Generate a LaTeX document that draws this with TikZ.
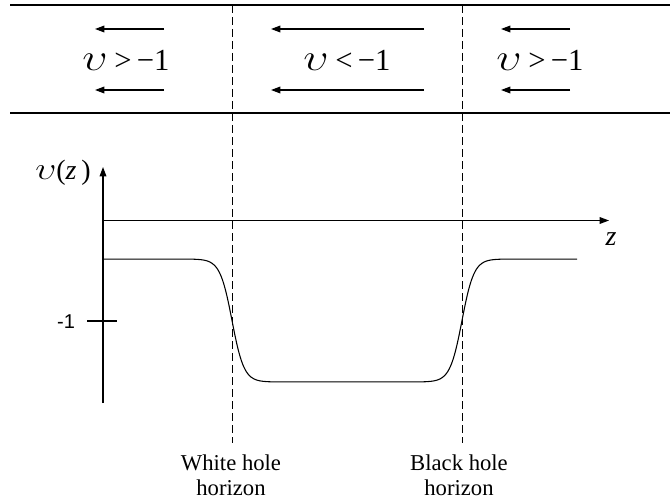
\documentclass[tikz,border=0pt]{standalone}
\usepackage{fontspec}
\usepackage{graphicx}
\setmainfont{Liberation Serif}
\newfontfamily\sansf{Liberation Sans}
\usetikzlibrary{arrows.meta}
\newcommand{\myups}{\scalebox{1.35}[1.15]{$\upsilon$}}
\begin{document}
\begin{tikzpicture}[x=0.75pt,y=-0.75pt, line width=0.9pt,
  tip/.style={-{Triangle[length=7pt,width=5pt]}},
  hz/.style={dash pattern=on 6pt off 3pt, line width=0.8pt},
  big/.style={font=\fontsize{23}{26}\selectfont, anchor=base, inner sep=0pt},
  lab/.style={font=\fontsize{17}{19}\selectfont, anchor=base, inner sep=0pt},
  axl/.style={font=\fontsize{21}{24}\selectfont, inner sep=0pt}]
\useasboundingbox (0,0) rectangle (670,499);
% band lines
\coordinate (t1) at (10,5); \coordinate (t2) at (670,5);
\coordinate (b1) at (10,113); \coordinate (b2) at (670,113);
\draw (t1) -- (t2);
\draw (b1) -- (b2);
% horizons
\coordinate (w1) at (232.5,5); \coordinate (w2) at (232.5,443);
\coordinate (k1) at (462.5,5); \coordinate (k2) at (462.5,443);
\draw[hz] (w1) -- (w2);
\draw[hz] (k1) -- (k2);
% arrows
\coordinate (a1s) at (164,29); \coordinate (a1e) at (95,29);
\coordinate (a2s) at (164,90); \coordinate (a2e) at (95,90);
\coordinate (a3s) at (424,29); \coordinate (a3e) at (271,29);
\coordinate (a4s) at (424,90); \coordinate (a4e) at (271,90);
\coordinate (a5s) at (570,29); \coordinate (a5e) at (501,29);
\coordinate (a6s) at (570,90); \coordinate (a6e) at (501,90);
\foreach \i in {1,...,6} \draw[tip] (a\i s) -- (a\i e);
% labels in band
\node[big] (l1) at (126,71) {\myups\hspace{0.22em}>\,−1};
\node[big] (l2) at (347,71) {\myups\hspace{0.22em}<\,−1};
\node[big] (l3) at (540,71) {\myups\hspace{0.22em}>\,−1};
% axes
\coordinate (o) at (103,403); \coordinate (ytop) at (103,167);
\coordinate (zs) at (103,220.5); \coordinate (ze) at (609,220.5);
\draw[tip] (o) -- (ytop);
\draw[tip] (zs) -- (ze);
\node[axl] (vz) at (63,173) {\myups(\textit{z}\,)};
\node[axl] (zl) at (611,239) {\textit{z}};
% tick -1
\coordinate (m1) at (87,321); \coordinate (m2) at (117,321);
\draw (m1) -- (m2);
\node[font=\sansf\fontsize{15}{17}\selectfont, inner sep=0pt] (ml) at (66,322) {-1};
% curve
\draw[line width=0.8pt] plot[domain=103:347, samples=90, smooth] (\x, {320.5 - 61.5*tanh(max(-4,min(4,(232-\x)/12)))})
  -- plot[domain=347:577, samples=90, smooth] (\x, {320.5 - 61.5*tanh(max(-4,min(4,(\x-462)/12)))});
% horizon labels
\node[lab] (wh1) at (231,470) {White hole};
\node[lab] (wh2) at (231,495) {horizon};
\node[lab] (bh1) at (459,470) {Black hole};
\node[lab] (bh2) at (459,495) {horizon};
\end{tikzpicture}
\end{document}
